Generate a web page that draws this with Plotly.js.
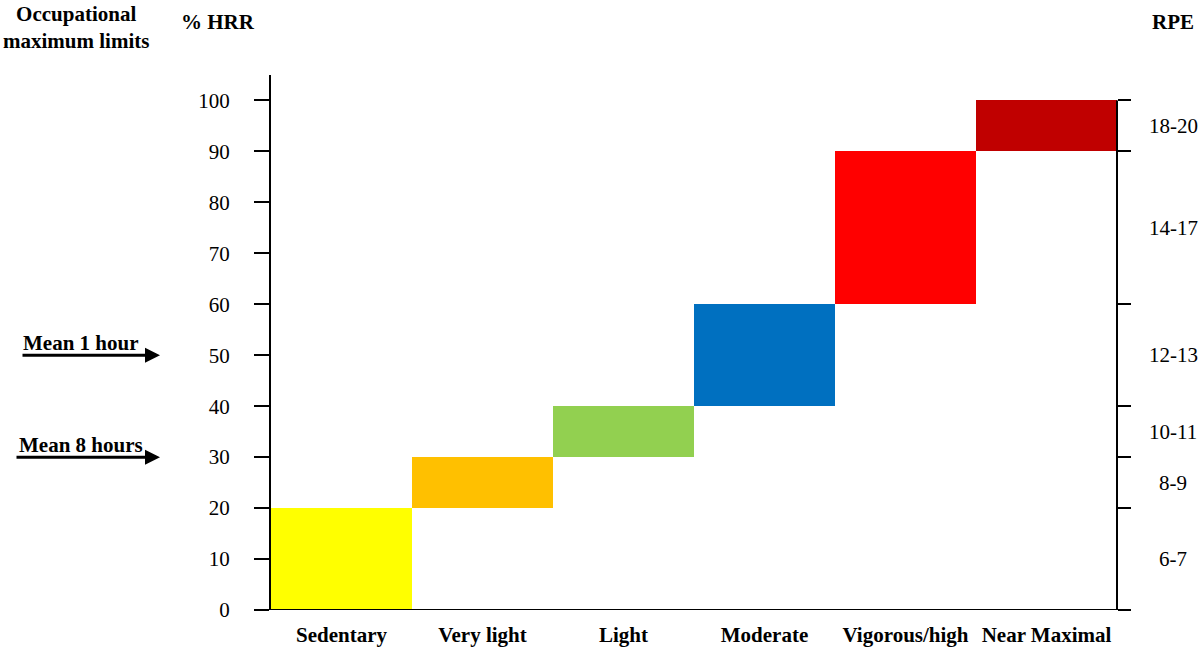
<!DOCTYPE html>
<html><head><meta charset="utf-8">
<script src="https://cdn.plot.ly/plotly-3.0.1.min.js"></script>
<style>body{margin:0;padding:0;background:#fff}#chart{width:1200px;height:647px}</style>
</head><body><div id="chart"></div>
<script>
const categories = ["Sedentary", "Very light", "Light", "Moderate", "Vigorous/high", "Near Maximal"];
const hrrLow = [0, 20, 30, 40, 60, 90];
const hrrHigh = [20, 30, 40, 60, 90, 100];
const barColors = ["#FFFF00", "#FFC000", "#92D050", "#0070C0", "#FF0000", "#C00000"];
const rpeBounds = [0, 20, 30, 40, 60, 90, 100];
const rpeLabels = ["6-7", "8-9", "10-11", "12-13", "14-17", "18-20"];
const rpeLabelPos = [10, 25, 35, 50, 75, 95];
const meanLabels = ["Mean 1 hour", "Mean 8 hours"];
const meanValues = [50, 30];

const font = "Liberation Serif, Times New Roman, serif";
const FS = 21;
const L = 271, W = 846, B = 610, H = 535;
const px = v => (v - L) / W;
const py = v => (B - v) / H;

const trace = {
  type: "bar",
  x: categories,
  y: hrrHigh.map((h, i) => h - hrrLow[i]),
  base: hrrLow,
  marker: {color: barColors, line: {width: 0}},
  hoverinfo: "skip",
  showlegend: false
};
const rightTrace = {
  type: "scatter", x: [categories[0]], y: [0], yaxis: "y2",
  mode: "markers", marker: {opacity: 0}, hoverinfo: "skip", showlegend: false
};

const annotations = [];
rpeLabels.forEach((t, i) => annotations.push({
  text: t, x: px(1173), xref: "paper", y: rpeLabelPos[i], yref: "y",
  showarrow: false, xanchor: "center", yanchor: "middle",
  font: {family: font, size: FS, color: "#000"}
}));
annotations.push({text: "<b>Occupational</b><br><b>maximum limits</b>", x: px(76), xref: "paper", y: py(27), yref: "paper",
  showarrow: false, xanchor: "center", yanchor: "middle", font: {family: font, size: FS, color: "#000"}});
annotations.push({text: "<b>% HRR</b>", x: px(218), xref: "paper", y: py(22), yref: "paper",
  showarrow: false, xanchor: "center", yanchor: "middle", font: {family: font, size: FS, color: "#000"}});
annotations.push({text: "<b>RPE</b>", x: px(1173), xref: "paper", y: py(22), yref: "paper",
  showarrow: false, xanchor: "center", yanchor: "middle", font: {family: font, size: FS, color: "#000"}});
const arrowStart = [21, 15];
const textStart = [21, 17];
meanLabels.forEach((t, i) => {
  annotations.push({text: "", x: px(160), xref: "paper", y: meanValues[i], yref: "y",
    ax: arrowStart[i] - 160, ay: 0, showarrow: true, arrowhead: 2, arrowsize: 1, arrowwidth: 3, arrowcolor: "#000"});
  annotations.push({text: "<b>" + t + "</b>", x: px(textStart[i]), xref: "paper",
    y: meanValues[i] + 2.4, yref: "y", xanchor: "left", yanchor: "middle", showarrow: false,
    font: {family: font, size: FS, color: "#000"}});
});

const layout = {
  width: 1200, height: 647,
  margin: {l: 271, r: 83, t: 75, b: 37},
  paper_bgcolor: "#fff", plot_bgcolor: "#fff",
  bargap: 0,
  xaxis: {
    type: "category", showgrid: false, zeroline: false, showline: false, ticks: "",
    tickfont: {family: font, size: FS, color: "#000", weight: "bold"},
    ticklabelstandoff: 10, fixedrange: true
  },
  yaxis: {
    range: [0, 105], tickvals: [0, 10, 20, 30, 40, 50, 60, 70, 80, 90, 100],
    showgrid: false, zeroline: false, showline: true, linecolor: "#000", linewidth: 2,
    ticks: "outside", ticklen: 15, tickcolor: "#000", tickwidth: 2,
    ticklabelstandoff: 20,
    tickfont: {family: font, size: FS, color: "#000"}, fixedrange: true
  },
  yaxis2: {
    overlaying: "y", side: "right", range: [0, 105], tickvals: rpeBounds,
    showticklabels: false, showgrid: false, zeroline: false, showline: false,
    ticks: "outside", ticklen: 13, tickcolor: "#000", tickwidth: 2, fixedrange: true
  },
  shapes: [
    {type: "line", xref: "paper", yref: "y", x0: 1, x1: 1, y0: 0, y1: 100, line: {color: "#000", width: 2}},
    {type: "line", xref: "paper", yref: "y", x0: -15 / W, x1: 1 + 13 / W, y0: 0, y1: 0, line: {color: "#000", width: 2}}
  ],
  annotations: annotations,
  showlegend: false
};

Plotly.newPlot("chart", [trace, rightTrace], layout, {displayModeBar: false, staticPlot: true});
</script></body></html>
